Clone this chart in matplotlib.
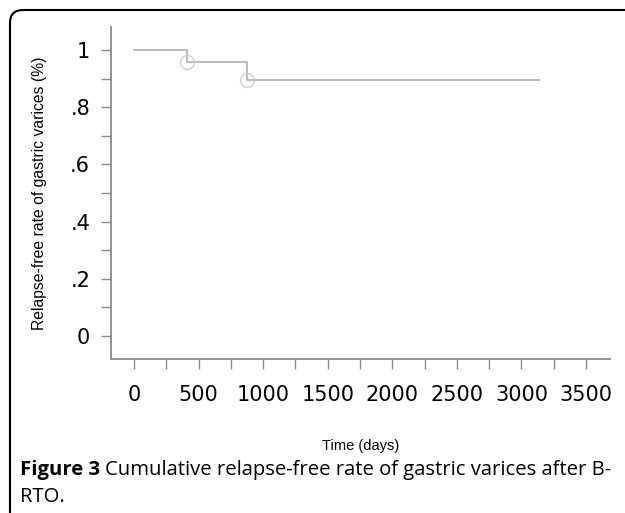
import matplotlib
matplotlib.use("Agg")
import matplotlib.pyplot as plt
from matplotlib.patches import FancyBboxPatch
from matplotlib.ticker import MultipleLocator

# Kaplan-Meier style step data
times = [0, 410, 875, 3140]
survival = [1.0, 0.958, 0.895, 0.895]
censor_t = [410, 875]
censor_s = [0.958, 0.895]

x_ticks = [0, 500, 1000, 1500, 2000, 2500, 3000, 3500]
y_ticks = [0, 0.2, 0.4, 0.6, 0.8, 1.0]
y_labels = ["0", ".2", ".4", ".6", ".8", "1"]

fig = plt.figure(figsize=(6.25, 5.13), dpi=100)
ax = fig.add_axes([0.1776, 0.3002, 0.7984, 0.6472])

ax.step(times, survival, where="post", color="#b4b4b4", lw=1.3)
ax.plot(censor_t, censor_s, "o", mfc="none", mec="#cfcfcf", ms=10, mew=1.0)

ax.set_xlim(-178, 3686)
ax.set_ylim(-0.08, 1.08)
ax.set_xticks(x_ticks)
ax.set_yticks(y_ticks)
ax.set_yticklabels(y_labels)
ax.xaxis.set_minor_locator(MultipleLocator(250))
ax.yaxis.set_minor_locator(MultipleLocator(0.1))

for s in ["top", "right"]:
    ax.spines[s].set_visible(False)
for s in ["left", "bottom"]:
    ax.spines[s].set_color("#8a8a8a")
    ax.spines[s].set_linewidth(1.3)

ax.tick_params(which="both", direction="out", length=7, width=1.0, color="#8a8a8a")
ax.tick_params(axis="x", labelsize=15, pad=12)
ax.tick_params(axis="y", labelsize=15, pad=8)

ax.set_ylabel("Relapse-free rate of gastric varices (%)", family="Liberation Sans",
              fontsize=11.3, labelpad=17)
ax.set_xlabel("Time (days)", family="Liberation Sans", fontsize=10.5, labelpad=24)

# caption
cap = fig.text(20 / 625, 1 - 470 / 513, "Figure 3", family="Open Sans", weight="bold",
               fontsize=14.6, va="center")
fig.canvas.draw()
bb = cap.get_window_extent()
fig.text((bb.x1 + 5) / 625, 1 - 470 / 513,
         "Cumulative relapse-free rate of gastric varices after B-",
         family="Open Sans", fontsize=14.6, va="center")
fig.text(20 / 625, 1 - 497 / 513, "RTO.", family="Open Sans", fontsize=14.6, va="center")

# rounded frame, open to the right and bottom
frame = FancyBboxPatch((0.10, -1.0), 8.0, 6.03, boxstyle="round,pad=0,rounding_size=0.13",
                       transform=fig.dpi_scale_trans, fill=False, ec="black", lw=1.5)
fig.patches.append(frame)

fig.savefig("out.png", dpi=100)
